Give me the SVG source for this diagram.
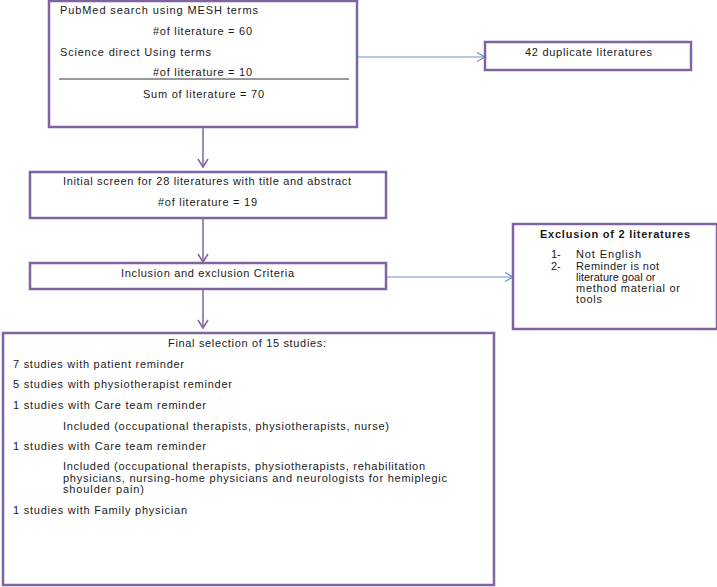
<svg xmlns="http://www.w3.org/2000/svg" width="717" height="587" viewBox="0 0 717 587">
<defs>
<marker id="vp" markerWidth="12" markerHeight="12" refX="10" refY="6" orient="auto" markerUnits="userSpaceOnUse">
<path d="M2,1 L10,6 L2,11" fill="none" stroke="#8064A2" stroke-width="1.5"/>
</marker>
<marker id="vb" markerWidth="12" markerHeight="12" refX="10" refY="6" orient="auto" markerUnits="userSpaceOnUse">
<path d="M2,1.5 L10,6 L2,10.5" fill="none" stroke="#6F8FCB" stroke-width="1.2"/>
</marker>
</defs>
<style>
.box{fill:#fff;stroke:#8064A2;stroke-width:2.5}
text{font-family:"Liberation Sans",Arial,sans-serif;font-size:11px;fill:#1a1a1a}
.c{text-anchor:middle}
.b{font-weight:bold}
.pc{fill:none;stroke:#8064A2;stroke-width:1.5}
.bc{fill:none;stroke:#6F8FCB;stroke-width:1.2}
</style>
<rect width="717" height="587" fill="#fff"/>
<g id="connectors">
<path class="pc" d="M203,127 V167" marker-end="url(#vp)"/>
<path class="pc" d="M203,218 V262" marker-end="url(#vp)"/>
<path class="pc" d="M203,289 V328" marker-end="url(#vp)"/>
<path class="bc" d="M357,57 H485" marker-end="url(#vb)"/>
<path class="bc" d="M386,277 H513" marker-end="url(#vb)"/>
</g>
<g id="search">
<rect class="box" x="49" y="1" width="308" height="126"/>
<text x="60" y="14" textLength="198" lengthAdjust="spacing">PubMed search using MESH terms</text>
<text x="153" y="35" textLength="99" lengthAdjust="spacing">#of literature = 60</text>
<text x="60" y="56" textLength="151" lengthAdjust="spacing">Science direct Using terms</text>
<text x="153" y="76" textLength="99" lengthAdjust="spacing">#of literature = 10</text>
<line x1="59" y1="79" x2="349" y2="79" stroke="#333" stroke-width="1"/>
<text x="143" y="98" textLength="121" lengthAdjust="spacing">Sum of literature = 70</text>
</g>
<g id="duplicates">
<rect class="box" x="485" y="42" width="206" height="28"/>
<text x="525" y="56" textLength="127" lengthAdjust="spacing">42 duplicate literatures</text>
</g>
<g id="screen">
<rect class="box" x="30" y="172" width="356" height="46"/>
<text x="63" y="185" textLength="288" lengthAdjust="spacing">Initial screen for 28 literatures with title and abstract</text>
<text x="158" y="206" textLength="99" lengthAdjust="spacing">#of literature = 19</text>
</g>
<g id="criteria">
<rect class="box" x="30" y="263" width="356" height="26"/>
<text x="121" y="277" textLength="173" lengthAdjust="spacing">Inclusion and exclusion Criteria</text>
</g>
<g id="exclusion">
<rect class="box" x="513" y="224" width="204" height="105"/>
<text class="b" x="540" y="238" textLength="150" lengthAdjust="spacing">Exclusion of 2 literatures</text>
<text x="551" y="258">1-</text>
<text x="576" y="258" textLength="65" lengthAdjust="spacing">Not English</text>
<text x="551" y="270">2-</text>
<text x="576" y="270" textLength="83" lengthAdjust="spacing">Reminder is not</text>
<text x="576" y="281">literature goal or</text>
<text x="576" y="292" textLength="104" lengthAdjust="spacing">method material or</text>
<text x="576" y="303" textLength="26" lengthAdjust="spacing">tools</text>
</g>
<g id="final">
<rect class="box" x="3" y="333" width="491" height="252"/>
<text x="168" y="347" textLength="158" lengthAdjust="spacing">Final selection of 15 studies:</text>
<text x="13" y="368" textLength="171" lengthAdjust="spacing">7 studies with patient reminder</text>
<text x="13" y="388" textLength="219" lengthAdjust="spacing">5 studies with physiotherapist reminder</text>
<text x="13" y="409" textLength="193" lengthAdjust="spacing">1 studies with Care team reminder</text>
<text x="63" y="430" textLength="326" lengthAdjust="spacing">Included (occupational therapists, physiotherapists, nurse)</text>
<text x="13" y="450" textLength="193" lengthAdjust="spacing">1 studies with Care team reminder</text>
<text x="63" y="470" textLength="362" lengthAdjust="spacing">Included (occupational therapists, physiotherapists, rehabilitation</text>
<text x="63" y="482" textLength="384" lengthAdjust="spacing">physicians, nursing-home physicians and neurologists for hemiplegic</text>
<text x="63" y="493" textLength="81" lengthAdjust="spacing">shoulder pain)</text>
<text x="13" y="514" textLength="174" lengthAdjust="spacing">1 studies with Family physician</text>
</g>
</svg>
